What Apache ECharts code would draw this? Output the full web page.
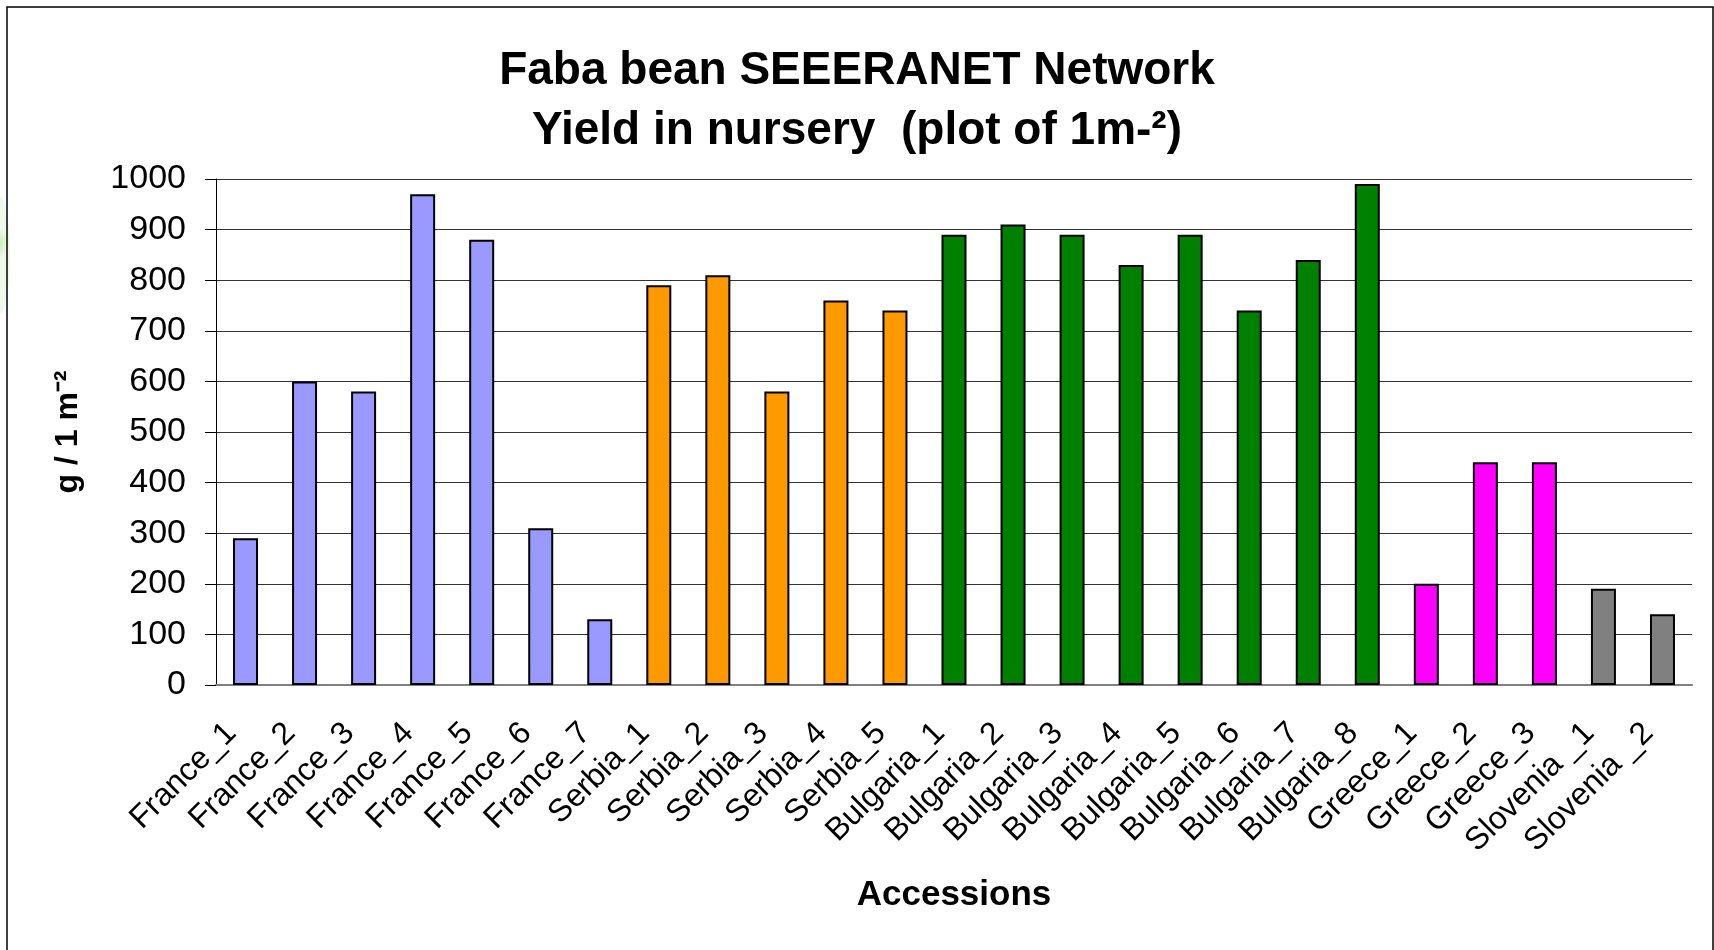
<!DOCTYPE html>
<html>
<head>
<meta charset="utf-8">
<script src="https://cdn.jsdelivr.net/npm/echarts@6/dist/echarts.min.js"></script>
<style>
  html, body { margin: 0; padding: 0; background: #fff; }
  #chart { width: 1714px; height: 950px; }
</style>
</head>
<body>
<div id="chart"></div>
<script>
// accessions and yield (g per 1 m2 plot)
const categories = [
  'France_1', 'France_2', 'France_3', 'France_4', 'France_5', 'France_6', 'France_7',
  'Serbia_1', 'Serbia_2', 'Serbia_3', 'Serbia_4', 'Serbia_5',
  'Bulgaria_1', 'Bulgaria_2', 'Bulgaria_3', 'Bulgaria_4', 'Bulgaria_5', 'Bulgaria_6', 'Bulgaria_7', 'Bulgaria_8',
  'Greece_1', 'Greece_2', 'Greece_3',
  'Slovenia _1', 'Slovenia _2'
]
const yieldValues = [
  290, 600, 580, 970, 880, 310, 130,
  790, 810, 580, 760, 740,
  890, 910, 890, 830, 890, 740, 840, 990,
  200, 440, 440,
  190, 140
]
const yTicks = [0, 100, 200, 300, 400, 500, 600, 700, 800, 900, 1000]

// one colour per country
const countryColors = {
  France: '#9999FF',
  Serbia: '#FF9900',
  Bulgaria: '#008000',
  Greece: '#FF00FF',
  Slovenia: '#808080'
}

const font = '"Liberation Sans", Arial, sans-serif'
const chart = echarts.init(document.getElementById('chart'))

const barData = yieldValues.map((v, i) => {
  const country = categories[i].split(/[ _]/)[0]
  return {
    value: v,
    itemStyle: { color: countryColors[country] }
  }
})

const option = {
  backgroundColor: '#fff',
  animation: false,
  title: {
    text: 'Faba bean SEEERANET Network\nYield in nursery  (plot of 1m-²)',
    left: 'center',
    top: 41,
    padding: 0,
    textStyle: {
      fontFamily: font,
      fontSize: 46,
      fontWeight: 'bold',
      color: '#000',
      lineHeight: 60
    }
  },
  grid: {
    left: 216,
    right: 22,
    top: 179,
    bottom: 265
  },
  xAxis: {
    type: 'category',
    data: categories,
    name: 'Accessions',
    nameLocation: 'middle',
    nameGap: 193,
    nameTextStyle: {
      fontFamily: font,
      fontSize: 35,
      fontWeight: 'bold',
      color: '#000'
    },
    axisLine: { lineStyle: { color: '#808080', width: 2 } },
    axisTick: { length: 9, lineStyle: { color: '#000' } },
    axisLabel: {
      interval: 0,
      rotate: 45,
      margin: 29,
      padding: [0, 20, 0, 0],
      fontFamily: font,
      fontSize: 32,
      color: '#000'
    }
  },
  yAxis: {
    type: 'value',
    min: 0,
    max: 1000,
    interval: 100,
    name: 'g / 1 m⁻²',
    nameLocation: 'middle',
    nameGap: 132,
    nameTextStyle: {
      fontFamily: font,
      fontSize: 32,
      fontWeight: 'bold',
      color: '#000'
    },
    axisLine: { show: true, lineStyle: { color: '#000', width: 1 } },
    axisTick: { show: true, length: 11, lineStyle: { color: '#000' } },
    axisLabel: {
      margin: 30,
      fontFamily: font,
      fontSize: 34,
      color: '#000',
      formatter: v => yTicks.includes(v) ? String(v) : ''
    },
    splitLine: { lineStyle: { color: '#333', width: 1 } }
  },
  series: [
    {
      type: 'bar',
      data: barData,
      barWidth: 25,
      itemStyle: {
        borderColor: '#000',
        borderWidth: 2
      }
    }
  ],
  graphic: [
    {
      type: 'rect',
      shape: { x: 7, y: 7, width: 1706, height: 1000 },
      style: { fill: 'none', stroke: '#000', lineWidth: 1.5 },
      silent: true
    },
    {
      type: 'ellipse',
      shape: { cx: 0, cy: 255, rx: 10, ry: 58 },
      style: {
        fill: new echarts.graphic.RadialGradient(0.2, 0.4, 0.8, [
          { offset: 0, color: 'rgba(170,225,120,0.9)' },
          { offset: 1, color: 'rgba(215,238,205,0.4)' }
        ])
      },
      silent: true,
      z: -1
    }
  ]
}

chart.setOption(option)
</script>
</body>
</html>
